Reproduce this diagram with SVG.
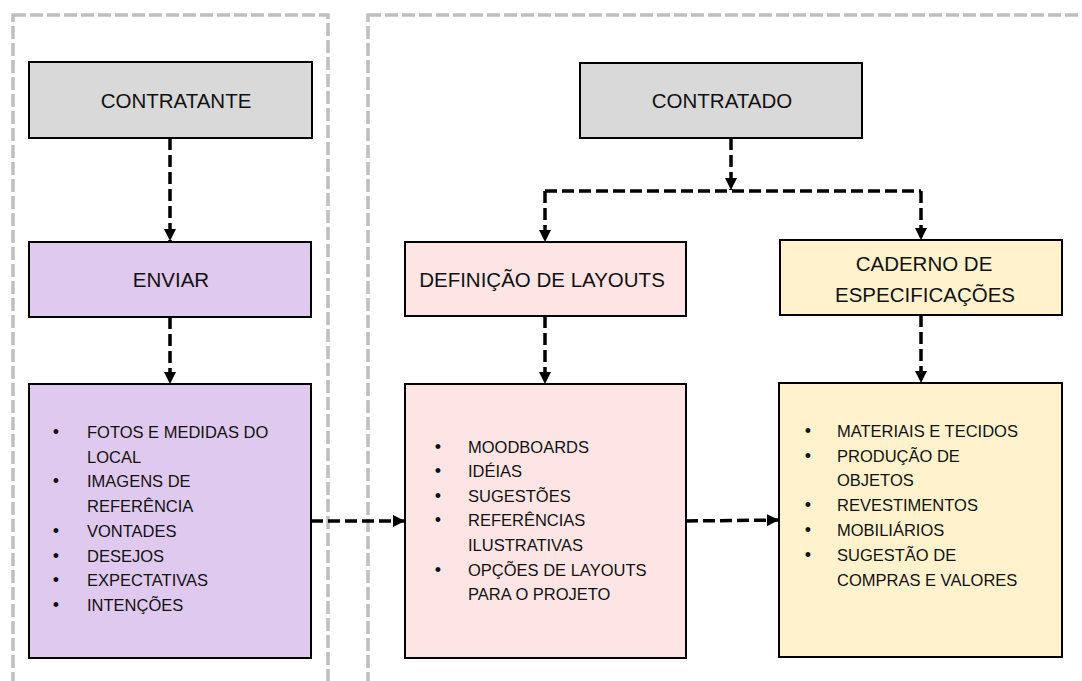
<svg xmlns="http://www.w3.org/2000/svg" width="1082" height="681" viewBox="0 0 1082 681">
  <style>
    .container { fill: none; stroke: #bfbfbf; stroke-width: 3.5; stroke-dasharray: 13 4; }
    .box { stroke: #000; stroke-width: 2; }
    .gray { fill: #d9d9d9; }
    .purple { fill: #e0c9ee; }
    .pink { fill: #fee5e5; }
    .yellow { fill: #fff2cc; }
    .title { font-family: "Liberation Sans", Arial, sans-serif; font-size: 20.5px; fill: #111; text-anchor: middle; }
    .item { font-family: "Liberation Sans", Arial, sans-serif; font-size: 16.5px; fill: #111; }
    .bullet { font-family: "Liberation Sans", Arial, sans-serif; font-size: 18px; fill: #111; text-anchor: middle; }
    .conn { fill: none; stroke: #000; stroke-width: 3.5; stroke-dasharray: 12 5; }
  </style>
  <defs>
    <marker id="arrow" markerUnits="userSpaceOnUse" viewBox="0 0 12 12" refX="12" refY="6" markerWidth="12" markerHeight="12" orient="auto">
      <path d="M0,0 L12,6 L0,12 z" fill="#000"/>
    </marker>
  </defs>
  <rect width="1082" height="681" fill="#fff"/>

  <g id="containers">
    <rect class="container" x="13" y="15" width="315" height="700"/>
    <rect class="container" x="368" y="15" width="740" height="700"/>
  </g>

  <g id="connectors">
    <path class="conn" d="M170,138 L170,241" marker-end="url(#arrow)"/>
    <path class="conn" d="M170,317 L170,384" marker-end="url(#arrow)"/>
    <path class="conn" d="M731,138 L731,190" marker-end="url(#arrow)"/>
    <path class="conn" d="M545,191 L921,191"/>
    <path class="conn" d="M545,191 L545,242" marker-end="url(#arrow)"/>
    <path class="conn" d="M921,191 L921,240" marker-end="url(#arrow)"/>
    <path class="conn" d="M545,316 L545,384" marker-end="url(#arrow)"/>
    <path class="conn" d="M921,315 L921,383" marker-end="url(#arrow)"/>
    <path class="conn" d="M311,521 L405,521" marker-end="url(#arrow)"/>
    <path class="conn" d="M686,521 L779,520" marker-end="url(#arrow)"/>
  </g>

  <g id="contratante">
    <rect class="box gray" x="29" y="62" width="283" height="76"/>
    <text class="title" x="176" y="107.5">CONTRATANTE</text>
  </g>

  <g id="contratado">
    <rect class="box gray" x="580" y="63" width="282" height="75"/>
    <text class="title" x="722" y="107.5">CONTRATADO</text>
  </g>

  <g id="enviar">
    <rect class="box purple" x="29" y="242" width="282" height="75"/>
    <text class="title" x="171" y="286.5">ENVIAR</text>
  </g>

  <g id="definicao">
    <rect class="box pink" x="405" y="242" width="281" height="74"/>
    <text class="title" x="542" y="286.5">DEFINIÇÃO DE LAYOUTS</text>
  </g>

  <g id="caderno">
    <rect class="box yellow" x="780" y="240" width="282" height="75"/>
    <text class="title" x="924" y="270.5">CADERNO DE</text>
    <text class="title" x="925" y="301.5">ESPECIFICAÇÕES</text>
  </g>

  <g id="enviar-itens">
    <rect class="box purple" x="29" y="384" width="282" height="274"/>
    <text class="bullet" x="56" y="438">•</text>
    <text class="item" x="87" y="438">FOTOS E MEDIDAS DO</text>
    <text class="item" x="87" y="463">LOCAL</text>
    <text class="bullet" x="56" y="487">•</text>
    <text class="item" x="87" y="487">IMAGENS DE</text>
    <text class="item" x="87" y="512">REFERÊNCIA</text>
    <text class="bullet" x="56" y="537">•</text>
    <text class="item" x="87" y="537">VONTADES</text>
    <text class="bullet" x="56" y="562">•</text>
    <text class="item" x="87" y="562">DESEJOS</text>
    <text class="bullet" x="56" y="586">•</text>
    <text class="item" x="87" y="586">EXPECTATIVAS</text>
    <text class="bullet" x="56" y="611">•</text>
    <text class="item" x="87" y="611">INTENÇÕES</text>
  </g>

  <g id="definicao-itens">
    <rect class="box pink" x="405" y="384" width="281" height="274"/>
    <text class="bullet" x="438" y="453">•</text>
    <text class="item" x="468" y="453">MOODBOARDS</text>
    <text class="bullet" x="438" y="477">•</text>
    <text class="item" x="468" y="477">IDÉIAS</text>
    <text class="bullet" x="438" y="502">•</text>
    <text class="item" x="468" y="502">SUGESTÕES</text>
    <text class="bullet" x="438" y="526">•</text>
    <text class="item" x="468" y="526">REFERÊNCIAS</text>
    <text class="item" x="468" y="551">ILUSTRATIVAS</text>
    <text class="bullet" x="438" y="576">•</text>
    <text class="item" x="468" y="576">OPÇÕES DE LAYOUTS</text>
    <text class="item" x="468" y="600">PARA O PROJETO</text>
  </g>

  <g id="caderno-itens">
    <rect class="box yellow" x="779" y="383" width="283" height="274"/>
    <text class="bullet" x="808" y="437">•</text>
    <text class="item" x="837" y="437">MATERIAIS E TECIDOS</text>
    <text class="bullet" x="808" y="462">•</text>
    <text class="item" x="837" y="462">PRODUÇÃO DE</text>
    <text class="item" x="837" y="486">OBJETOS</text>
    <text class="bullet" x="808" y="511">•</text>
    <text class="item" x="837" y="511">REVESTIMENTOS</text>
    <text class="bullet" x="808" y="536">•</text>
    <text class="item" x="837" y="536">MOBILIÁRIOS</text>
    <text class="bullet" x="808" y="561">•</text>
    <text class="item" x="837" y="561">SUGESTÃO DE</text>
    <text class="item" x="837" y="586">COMPRAS E VALORES</text>
  </g>
</svg>
